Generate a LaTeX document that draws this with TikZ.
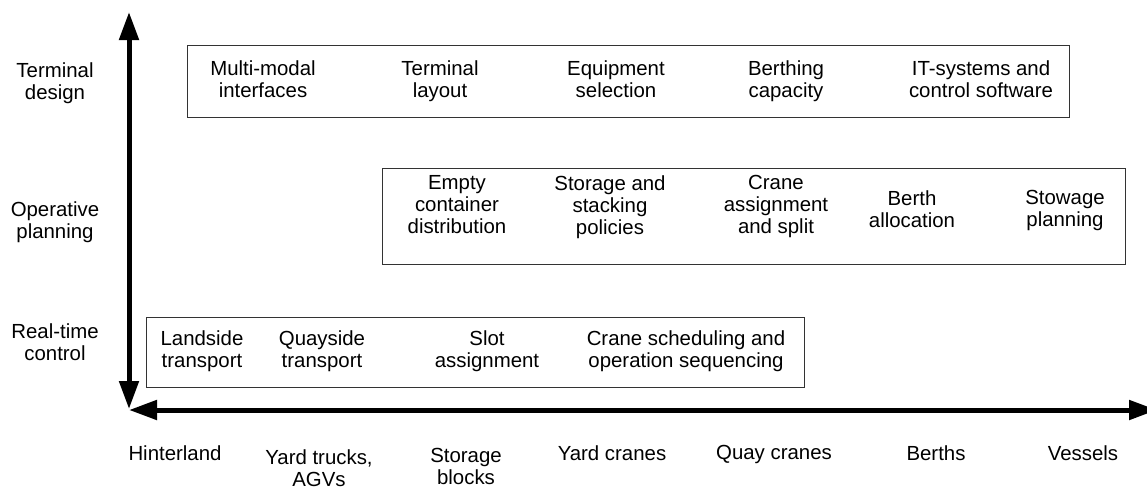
\documentclass[tikz,border=0pt]{standalone}
\usepackage{fontspec}
\setmainfont{Liberation Sans}
\usepackage{tikz}
\usetikzlibrary{arrows.meta}
\newcommand{\lblfont}{\fontsize{10.2}{11}\selectfont}

\begin{document}
\begin{tikzpicture}[x=0.5pt,y=-0.5pt]
\tikzstyle{every node}=[align=center,inner sep=0pt,font=\lblfont]
\tikzstyle{txt}=[execute at begin node=\strut,execute at end node=\strut]
\tikzstyle{lvlbox}=[draw=black!80,line width=0.7pt,anchor=north west]
\tikzstyle{axis}=[line width=2.5pt,arrows={Triangle[length=14pt,width=9.5pt]-Triangle[length=14pt,width=9.5pt]}]
\useasboundingbox (0,0) rectangle (1147,489);
\coordinate (o) at (129,410);
\coordinate (ytop) at (129,12);
\coordinate (xend) at (1157,410);
\node[lvlbox,minimum width=441pt,minimum height=36pt] (design) at (187,45) {};
\node[lvlbox,minimum width=371.5pt,minimum height=48pt] (plan) at (382,168) {};
\node[lvlbox,minimum width=329pt,minimum height=35pt] (ctrl) at (146,317) {};
\node[txt] (l1) at (55,84) {Terminal\\design};
\node[txt] (l2) at (55,223) {Operative\\planning};
\node[txt] (l3) at (55,345) {Real-time\\control};
\node[txt] (d1) at (263,82) {Multi-modal\\interfaces};
\node[txt] (d2) at (440,82) {Terminal\\layout};
\node[txt] (d3) at (616,82) {Equipment\\selection};
\node[txt] (d4) at (786,82) {Berthing\\capacity};
\node[txt] (d5) at (981,82) {IT-systems and\\control software};
\node[txt] (p1) at (457,208) {Empty\\container\\distribution};
\node[txt] (p2) at (610,208) {Storage and\\stacking\\policies};
\node[txt] (p3) at (776,208) {Crane\\assignment\\and split};
\node[txt] (p4) at (912,212) {Berth\\allocation};
\node[txt] (p5) at (1065,212) {Stowage\\planning};
\node[txt] (c1) at (202,352) {Landside\\transport};
\node[txt] (c2) at (322,352) {Quayside\\transport};
\node[txt] (c3) at (487,352) {Slot\\assignment};
\node[txt] (c4) at (686,352) {Crane scheduling and\\operation sequencing};
\node[anchor=north] (x1) at (175,445) {Hinterland};
\node[anchor=north] (x2) at (319,449) {Yard trucks,\\AGVs};
\node[anchor=north] (x3) at (466,448) {Storage\\blocks};
\node[anchor=north] (x4) at (612,445) {Yard cranes};
\node[anchor=north] (x5) at (774,445) {Quay cranes};
\node[anchor=north] (x6) at (936,445) {Berths};
\node[anchor=north] (x7) at (1083,445) {Vessels};
\draw[axis] ([yshift=0.5pt]o) -- (ytop);
\draw[axis] (o) -- (xend);
\end{tikzpicture}
\end{document}
